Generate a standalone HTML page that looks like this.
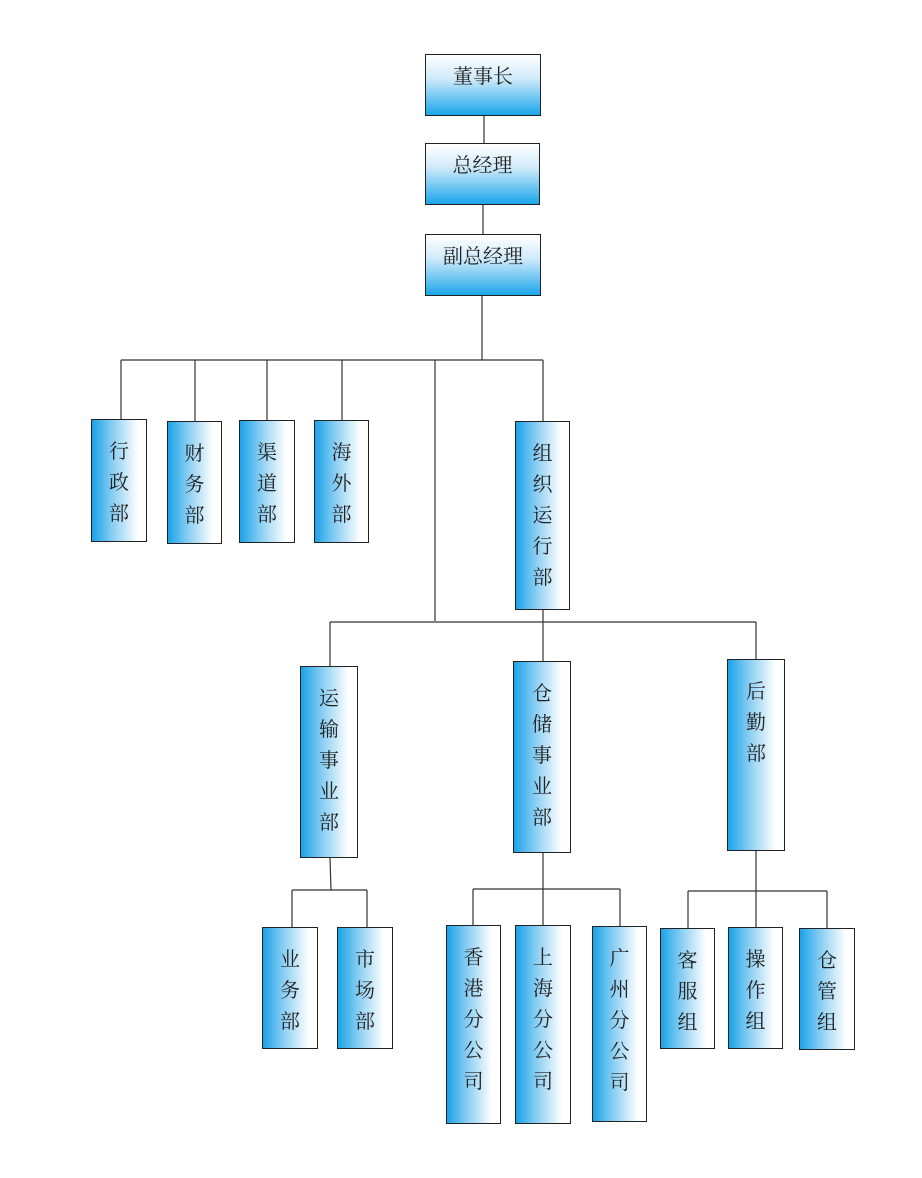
<!DOCTYPE html>
<html><head><meta charset="utf-8"><style>
body{margin:0;width:922px;height:1178px;background:#fff;position:relative;overflow:hidden;font-family:"Liberation Serif","Noto Serif CJK SC",serif;}
.b{position:absolute;box-sizing:border-box;border:1.3px solid #222;color:#222;font-size:20px;text-align:center;}
.h{background:linear-gradient(to bottom,#ffffff 0%,#cfeafa 40%,#1aa6ea 100%);line-height:44px;}
.v{background:linear-gradient(to right,#1aa3e8 0%,#8fd0f3 40%,#ffffff 85%);line-height:31px;padding-top:17px;}
svg{position:absolute;left:0;top:0;}
</style></head><body>
<svg width="922" height="1178" stroke="#333" stroke-width="1.2" fill="none">
<path d="M484 116V143M483 205V234M482 296V360M121 360H543M121 360V419M195 360V421M267 360V420M342 360V420M435 360V621M543 360V421"/>
<path d="M543 610V622M330 622H756M330 622V666M543 622V661M756 622V659"/>
<path d="M330 858L331 890M292 890H367M292 890V927M367 890V927"/>
<path d="M543 853V889M473 889H620M473 889V925M543 889V925M620 889V926"/>
<path d="M756 851V891M688 891H827M688 891V928M756 891V927M827 891V928"/>
</svg>
<div class="b h" style="left:425px;top:54px;width:116px;height:62px">董事长</div>
<div class="b h" style="left:425px;top:143px;width:115px;height:62px">总经理</div>
<div class="b h" style="left:425px;top:234px;width:116px;height:62px">副总经理</div>
<div class="b v" style="left:91px;top:419px;width:56px;height:123px">行<br>政<br>部</div>
<div class="b v" style="left:167px;top:421px;width:55px;height:123px">财<br>务<br>部</div>
<div class="b v" style="left:239px;top:420px;width:56px;height:123px">渠<br>道<br>部</div>
<div class="b v" style="left:314px;top:420px;width:55px;height:123px">海<br>外<br>部</div>
<div class="b v" style="left:515px;top:421px;width:55px;height:189px">组<br>织<br>运<br>行<br>部</div>
<div class="b v" style="left:300px;top:666px;width:58px;height:192px">运<br>输<br>事<br>业<br>部</div>
<div class="b v" style="left:513px;top:661px;width:58px;height:192px">仓<br>储<br>事<br>业<br>部</div>
<div class="b v" style="left:727px;top:659px;width:58px;height:192px">后<br>勤<br>部</div>
<div class="b v" style="left:262px;top:927px;width:56px;height:122px">业<br>务<br>部</div>
<div class="b v" style="left:337px;top:927px;width:56px;height:122px">市<br>场<br>部</div>
<div class="b v" style="left:446px;top:925px;width:55px;height:199px">香<br>港<br>分<br>公<br>司</div>
<div class="b v" style="left:515px;top:925px;width:56px;height:199px">上<br>海<br>分<br>公<br>司</div>
<div class="b v" style="left:592px;top:926px;width:55px;height:196px">广<br>州<br>分<br>公<br>司</div>
<div class="b v" style="left:660px;top:928px;width:55px;height:121px">客<br>服<br>组</div>
<div class="b v" style="left:728px;top:927px;width:55px;height:122px">操<br>作<br>组</div>
<div class="b v" style="left:799px;top:928px;width:56px;height:122px">仓<br>管<br>组</div>
</body></html>
